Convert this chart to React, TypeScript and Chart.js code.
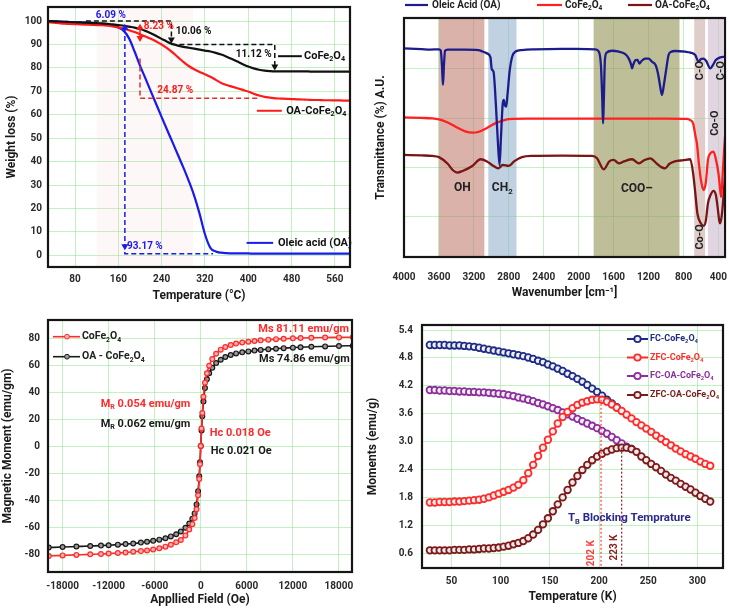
import React, { useEffect, useRef } from "react";
import { Chart, registerables } from "chart.js";
Chart.register(...registerables);

const FONT = 'Roboto, "Noto Sans", "DejaVu Sans", sans-serif';
const GRID = "rgba(120,225,120,0.45)";

// ---------- Panel A: TGA ----------
const tgaTemps = [30,40,50,60,70,80,90,100,110,120,130,140,150,160,170,180,190,200,210,220,230,240,250,260,270,280,290,300,310,320,330,340,350,360,370,380,390,400,410,420,430,440,450,460,470,480,490,500,510,520,530,540,550,560,570,580,590];
const tgaCoFe2O4 = [100.0,99.9,99.8,99.7,99.6,99.5,99.4,99.3,99.2,99.1,99.0,98.8,98.6,98.3,98.0,97.6,97.2,96.6,95.8,94.8,93.6,92.4,91.2,90.2,89.5,89.0,88.6,88.2,87.8,87.4,87.0,86.4,85.7,84.8,83.8,82.7,81.6,80.6,79.8,79.2,78.8,78.6,78.5,78.5,78.5,78.5,78.5,78.5,78.5,78.4,78.4,78.4,78.4,78.4,78.4,78.4,78.4];
const tgaOACoFe2O4 = [99.5,99.3,99.1,98.9,98.8,98.7,98.6,98.5,98.4,98.3,98.2,98.0,97.7,97.3,96.8,96.1,95.3,94.4,93.4,92.4,91.3,90.0,88.4,86.6,84.6,82.6,80.8,79.4,78.3,77.3,76.2,74.9,73.6,72.7,72.0,71.3,70.6,69.9,69.0,68.2,67.6,67.3,67.0,66.9,66.8,66.7,66.6,66.5,66.4,66.3,66.3,66.2,66.2,66.1,66.1,66.0,66.0];
const tgaOleicAcid = [100.0,99.9,99.8,99.7,99.6,99.5,99.4,99.3,99.2,99.0,98.8,98.5,98.0,97.2,95.8,92.5,87.0,81.0,75.5,70.0,64.5,59.0,53.6,48.3,42.9,37.5,31.8,25.5,17.8,9.0,3.2,1.6,1.1,0.9,0.8,0.8,0.8,0.8,0.7,0.7,0.7,0.7,0.7,0.7,0.7,0.7,0.7,0.7,0.7,0.7,0.7,0.7,0.7,0.7,0.7,0.7,0.7];
const tgaXTicks = [80,160,240,320,400,480,560];
const tgaYTicks = [0,10,20,30,40,50,60,70,80,90,100];

// ---------- Panel B: FTIR ----------
const ftirXTicks = [4000,3600,3200,2800,2400,2000,1600,1200,800,400];
const ftirYGrid = [17,37.5,58,79];
const oaWn = [4000,3800,3700,3600,3580,3565,3554,3543,3530,3500,3300,3150,3100,3050,3010,2995,2975,2950,2925,2906,2890,2870,2857,2845,2830,2815,2790,2760,2723,2650,2500,2200,1900,1810,1770,1745,1730,1721,1712,1700,1680,1618,1550,1470,1428,1400,1389,1375,1350,1325,1306,1280,1240,1200,1161,1120,1100,1085,1070,1047,1025,1000,971,940,900,780,720,666,628,600,571,540,495,460,430,380,325];
const oaT = [87.3,87.0,86.8,86.9,86.5,80.0,72.0,80.0,86.3,86.8,86.8,86.6,86.0,85.2,83.5,78.5,77.5,65.0,48.0,38.5,50.0,64.0,65.7,63.5,62.9,68.0,78.0,84.0,86.0,86.6,86.9,87.1,87.0,86.9,86.0,80.0,66.0,55.9,66.0,82.4,85.5,86.3,86.0,85.0,83.1,80.5,78.9,80.5,82.4,82.5,80.9,82.0,83.0,83.0,81.7,80.3,78.0,75.4,72.0,67.8,72.0,78.0,84.5,85.9,86.2,85.9,85.5,84.5,81.7,82.8,83.0,82.0,78.9,80.5,82.4,83.5,83.8];
const coWn = [4000,3800,3676,3600,3500,3400,3300,3218,3150,3050,2950,2850,2800,2600,2000,1500,1000,760,723,690,660,647,620,595,571,545,520,490,457,430,400,380,369,350,325];
const coT = [58.4,58.2,58.0,57.6,56.3,54.3,52.6,52.0,52.3,54.0,56.0,57.3,57.7,57.9,57.9,57.9,57.9,57.8,57.3,55.9,50.0,47.6,37.8,31.0,28.0,31.0,40.6,43.5,44.1,41.0,35.0,28.0,25.2,36.0,50.3];
const oacoWn = [4000,3800,3676,3600,3500,3440,3390,3330,3218,3123,3050,2980,2921,2870,2800,2740,2650,2533,2200,1847,1790,1714,1650,1600,1540,1480,1389,1310,1250,1180,1110,1050,1012,960,900,800,723,690,665,640,600,571,545,520,490,457,430,410,390,380,360,325];
const oacoT = [42.7,42.5,42.3,41.8,39.0,36.3,35.3,36.0,38.1,40.9,40.0,38.2,37.1,38.5,38.1,40.0,41.8,42.3,42.4,42.3,41.3,36.7,40.0,40.6,39.2,40.0,40.9,39.2,40.5,41.3,39.2,37.5,37.1,39.0,40.0,40.5,40.9,35.0,26.7,18.0,14.0,13.0,15.0,22.5,26.0,27.7,26.0,21.0,15.0,14.1,18.0,33.6];
const ftirBandFrom = [3600,3035,1829,677,521];
const ftirBandTo = [3080,2712,846,552,343];

// ---------- Panel C: VSM ----------
const vsmField = [-19800,-18000,-16200,-14400,-13000,-12000,-10800,-9800,-8800,-7800,-7000,-6200,-5400,-4600,-3900,-3200,-2600,-2000,-1500,-1100,-800,-550,-350,-200,-100,0,100,200,350,550,800,1100,1500,2000,2600,3200,3900,4600,5400,6200,7000,7800,8800,9800,10800,12000,13000,14400,16200,18000,19800];
const vsmCoFe2O4 = [-81.1,-80.7,-80.3,-79.9,-79.6,-79.3,-78.9,-78.5,-78.0,-77.5,-77.0,-76.3,-75.4,-74.2,-72.8,-71.0,-69.2,-66.0,-61.5,-57.5,-53.0,-46.5,-36.0,-24.0,-13.0,0.5,13.5,25.0,37.0,47.5,54.5,60.0,65.0,69.0,72.0,74.0,75.5,76.5,77.3,77.9,78.4,78.9,79.4,79.8,80.1,80.4,80.6,80.8,81.0,81.1,81.2];
const vsmOACoFe2O4 = [-74.8,-74.5,-74.1,-73.7,-73.4,-73.1,-72.7,-72.3,-71.8,-71.2,-70.6,-69.9,-69.0,-67.9,-66.6,-65.0,-63.0,-60.2,-57.0,-53.5,-49.5,-43.0,-33.0,-22.0,-11.5,0.5,12.0,22.5,33.5,43.5,50.0,54.5,58.5,62.0,64.5,66.5,68.0,69.2,70.0,70.7,71.3,71.8,72.3,72.7,73.1,73.5,73.8,74.1,74.4,74.7,74.9];
const vsmXTicks = [-18000,-12000,-6000,0,6000,12000,18000];
const vsmYTicks = [-80,-60,-40,-20,0,20,40,60,80];

// ---------- Panel D: FC / ZFC ----------
const mtTemps = [28,33,38,43,48,53,58,63,68,73,78,83,88,93,98,103,108,113,118,123,128,133,138,143,148,153,158,163,168,173,178,183,188,193,198,203,208,213,218,223,228,233,238,243,248,253,258,263,268,273,278,283,288,293,298,303,308,313];
const fcCoFe2O4 = [5.08,5.08,5.08,5.08,5.07,5.07,5.07,5.06,5.05,5.04,5.02,5.00,4.98,4.96,4.94,4.92,4.90,4.88,4.86,4.84,4.81,4.78,4.74,4.71,4.66,4.62,4.57,4.52,4.46,4.41,4.35,4.29,4.22,4.14,4.07,3.99,3.90,3.82,3.74];
const zfcCoFe2O4 = [1.69,1.69,1.70,1.70,1.70,1.71,1.71,1.72,1.73,1.74,1.75,1.77,1.80,1.84,1.88,1.92,1.96,2.01,2.07,2.17,2.32,2.50,2.69,2.87,3.04,3.22,3.39,3.53,3.64,3.72,3.79,3.84,3.87,3.90,3.91,3.90,3.86,3.80,3.73,3.66,3.58,3.50,3.42,3.35,3.28,3.21,3.13,3.06,2.99,2.92,2.85,2.79,2.73,2.68,2.63,2.57,2.52,2.48];
const fcOACoFe2O4 = [4.11,4.11,4.10,4.10,4.09,4.09,4.08,4.08,4.07,4.07,4.06,4.06,4.05,4.04,4.03,4.02,4.00,3.98,3.95,3.93,3.90,3.87,3.83,3.80,3.76,3.72,3.68,3.63,3.59,3.54,3.49,3.44,3.39,3.34,3.29,3.23,3.17,3.10,3.03,2.96,2.89,2.84];
const zfcOACoFe2O4 = [0.66,0.66,0.66,0.66,0.66,0.67,0.67,0.67,0.68,0.68,0.69,0.70,0.70,0.71,0.72,0.74,0.76,0.79,0.82,0.86,0.92,1.00,1.10,1.22,1.35,1.50,1.65,1.80,1.96,2.12,2.26,2.39,2.50,2.60,2.68,2.74,2.79,2.83,2.86,2.87,2.87,2.84,2.78,2.68,2.60,2.52,2.45,2.37,2.29,2.22,2.16,2.09,2.03,1.97,1.90,1.83,1.77,1.71];
const mtXTicks = [50,100,150,200,250,300];
const mtYTicks = [0.6,1.2,1.8,2.4,3.0,3.6,4.2,4.8,5.4];
const blockingTemps = [202,223];

// ---------- helpers ----------
type Pt = { x: number; y: number };
const zip = (xs: number[], ys: number[]): Pt[] => ys.map((y, i) => ({ x: xs[i], y }));

function richText(ctx: CanvasRenderingContext2D, text: string, x: number, y: number, size: number, color: string, align: "left" | "center" | "right" = "left", rot = 0) {
  const parts: { t: string; k: number }[] = [];
  let buf = "";
  for (let i = 0; i < text.length; i++) {
    const c = text[i];
    if ((c === "_" || c === "^") && i + 1 < text.length) {
      if (buf) { parts.push({ t: buf, k: 0 }); buf = ""; }
      parts.push({ t: text[i + 1], k: c === "_" ? 1 : 2 });
      i++;
    } else buf += c;
  }
  if (buf) parts.push({ t: buf, k: 0 });
  const small = size * 0.65;
  ctx.save();
  ctx.translate(x, y);
  if (rot) ctx.rotate(rot);
  let w = 0;
  const widths = parts.map((p) => {
    ctx.font = `bold ${p.k ? small : size}px ${FONT}`;
    const m = ctx.measureText(p.t).width;
    w += m;
    return m;
  });
  let cx = align === "left" ? 0 : align === "center" ? -w / 2 : -w;
  ctx.fillStyle = color;
  ctx.textAlign = "left";
  ctx.textBaseline = "middle";
  parts.forEach((p, i) => {
    ctx.font = `bold ${p.k ? small : size}px ${FONT}`;
    const dy = p.k === 1 ? size * 0.32 : p.k === 2 ? -size * 0.35 : 0;
    ctx.fillText(p.t, cx, dy);
    cx += widths[i];
  });
  ctx.restore();
}

function poly(ctx: CanvasRenderingContext2D, pts: number[][], color: string, dash: number[] = [], width = 1.5) {
  ctx.save();
  ctx.setLineDash(dash);
  ctx.strokeStyle = color;
  ctx.lineWidth = width;
  ctx.beginPath();
  pts.forEach(([x, y], i) => (i ? ctx.lineTo(x, y) : ctx.moveTo(x, y)));
  ctx.stroke();
  ctx.restore();
}

function head(ctx: CanvasRenderingContext2D, x: number, y: number, dir: "up" | "down", color: string, s = 3.5) {
  ctx.save();
  ctx.fillStyle = color;
  ctx.beginPath();
  const d = dir === "down" ? -1 : 1;
  ctx.moveTo(x, y);
  ctx.lineTo(x - s, y + d * s * 1.7);
  ctx.lineTo(x + s, y + d * s * 1.7);
  ctx.closePath();
  ctx.fill();
  ctx.restore();
}

function dot(ctx: CanvasRenderingContext2D, x: number, y: number, r: number, fill: string, stroke: string, lw = 1) {
  ctx.save();
  ctx.beginPath();
  ctx.arc(x, y, r, 0, Math.PI * 2);
  ctx.fillStyle = fill;
  ctx.fill();
  ctx.lineWidth = lw;
  ctx.strokeStyle = stroke;
  ctx.stroke();
  ctx.restore();
}

type AxisOpts = { pos: "left" | "bottom"; min: number; max: number; ticks: number[]; size: number; title: string; titlePad: number; tickPad: number; showTicks?: boolean; reverse?: boolean; fmt?: (v: number) => string };
function axis(o: AxisOpts) {
  return {
    type: "linear",
    position: o.pos,
    min: o.min,
    max: o.max,
    reverse: !!o.reverse,
    border: { display: false },
    grid: { color: GRID, lineWidth: 1, drawTicks: false },
    ticks: {
      display: o.showTicks !== false,
      padding: o.tickPad,
      color: "#2a2a2a",
      font: { family: FONT, size: 10, weight: "bold" },
      autoSkip: false,
      maxRotation: 0,
      minRotation: 0,
      callback: (v: any) => (o.fmt ? o.fmt(Number(v)) : String(v)),
    },
    title: {
      display: true,
      text: o.title,
      color: "#1a1a1a",
      font: { family: FONT, size: 12, weight: "bold" },
      padding: o.pos === "bottom" ? { top: 0, bottom: o.titlePad } : { top: o.titlePad, bottom: 0 },
    },
    afterBuildTicks: (s: any) => {
      s.ticks = o.ticks.map((v) => ({ value: v }));
    },
    afterFit: (s: any) => {
      if (o.pos === "bottom") s.height = o.size;
      else s.width = o.size;
      s.paddingTop = 0;
      s.paddingBottom = 0;
      s.paddingLeft = 0;
      s.paddingRight = 0;
    },
  };
}

const bgFrame = {
  id: "bgFrame",
  beforeDraw(c: any) {
    const ctx = c.ctx;
    ctx.save();
    ctx.fillStyle = "#fff";
    ctx.fillRect(0, 0, c.width, c.height);
    ctx.restore();
  },
  afterDraw(c: any) {
    const { left, top, right, bottom } = c.chartArea;
    const ctx = c.ctx;
    ctx.save();
    ctx.strokeStyle = "#151515";
    ctx.lineWidth = 2.2;
    ctx.strokeRect(left, top, right - left, bottom - top);
    ctx.restore();
  },
};

function config(datasets: any[], x: any, y: any, padding: any, plugin: any) {
  return {
    type: "line",
    data: { datasets },
    options: {
      animation: false,
      responsive: false,
      devicePixelRatio: 1,
      layout: { padding },
      plugins: { legend: { display: false }, tooltip: { enabled: false } },
      elements: { line: { cubicInterpolationMode: "monotone" } },
      scales: { x, y },
    },
    plugins: [bgFrame, plugin],
  };
}

function lineDs(data: Pt[], color: string, width = 2.2) {
  return { data, borderColor: color, backgroundColor: color, borderWidth: width, pointRadius: 0, fill: false };
}
function markDs(data: Pt[], color: string, fillColor: string, r: number, width: number, pbw = 1.2) {
  return { data, borderColor: color, backgroundColor: fillColor, borderWidth: width, pointRadius: r, pointBackgroundColor: fillColor, pointBorderColor: color, pointBorderWidth: pbw, fill: false };
}

// ---------- Panel builders ----------
const K = "#111111";
const RED = "#ff1a1a";
const BLUE = "#1a1aee";

function makeTGA() {
  const notes = {
    id: "tgaNotes",
    beforeDatasetsDraw(c: any) {
      const { ctx, chartArea: a } = c;
      const X = (v: number) => c.scales.x.getPixelForValue(v);
      ctx.save();
      ctx.fillStyle = "rgba(240,200,200,0.14)";
      ctx.fillRect(X(120), a.top, X(298) - X(120), a.bottom - a.top);
      ctx.restore();
    },
    afterDatasetsDraw(c: any) {
      const ctx = c.ctx;
      const X = (v: number) => c.scales.x.getPixelForValue(v);
      const Y = (v: number) => c.scales.y.getPixelForValue(v);
      poly(ctx, [[X(100), Y(100)], [X(258), Y(100)], [X(258), Y(92.6)]], K, [5, 3]);
      head(ctx, X(258), Y(90.4), "down", K);
      poly(ctx, [[X(258), Y(90)], [X(449), Y(90)], [X(449), Y(81.2)]], K, [5, 3]);
      head(ctx, X(449), Y(78.9), "down", K);
      richText(ctx, "10.06 %", X(266), Y(95.7), 10, K, "left");
      richText(ctx, "11.12 %", X(443), Y(85.8), 10, K, "right");
      poly(ctx, [[X(455), Y(85)], [X(499), Y(85)]], K, [], 2);
      richText(ctx, "CoFe_2O_4", X(503), Y(85), 11, K);

      richText(ctx, "8.23 %", X(207), Y(97.6), 10, RED);
      poly(ctx, [[X(200), Y(97.5)], [X(200), Y(92.5)]], RED, [], 1.5);
      head(ctx, X(200), Y(98.9), "up", RED);
      head(ctx, X(200), Y(91.1), "down", RED);
      poly(ctx, [[X(200), Y(84)], [X(200), Y(67)], [X(422), Y(67)]], "#d83333", [5, 3]);
      richText(ctx, "24.87 %", X(265), Y(70.5), 10, RED, "center");
      poly(ctx, [[X(416), Y(61.7)], [X(462), Y(61.7)]], RED, [], 2);
      richText(ctx, "OA-CoFe_2O_4", X(470), Y(61.7), 11, K);

      poly(ctx, [[X(172), Y(97)], [X(172), Y(0.7)], [X(335), Y(0.7)]], BLUE, [5, 3]);
      head(ctx, X(172), Y(98.8), "up", BLUE);
      head(ctx, X(172), Y(2.2), "down", BLUE);
      richText(ctx, "93.17 %", X(176), Y(3.9), 10, BLUE);
      richText(ctx, "6.09 %", X(146), Y(102.4), 10, BLUE, "center");
      poly(ctx, [[X(397), Y(5.3)], [X(446), Y(5.3)]], BLUE, [], 2);
      richText(ctx, "Oleic acid (OA)", X(455), Y(5.3), 11, K);
    },
  };
  return config(
    [
      lineDs(zip(tgaTemps, tgaCoFe2O4), K),
      lineDs(zip(tgaTemps, tgaOACoFe2O4), RED),
      lineDs(zip(tgaTemps, tgaOleicAcid), BLUE),
    ],
    axis({ pos: "bottom", min: 30, max: 588, ticks: tgaXTicks, size: 38, title: "Temperature (°C)", titlePad: 2, tickPad: 6 }),
    axis({ pos: "left", min: -5, max: 106, ticks: tgaYTicks, size: 48, title: "Weight loss (%)", titlePad: 4.5, tickPad: 6 }),
    { left: 0, top: 7, right: 15, bottom: 0 },
    notes
  );
}

const FT_OA = "#1c1c8c";
const FT_CO = "#ff2020";
const FT_OACO = "#7a1515";
const bandColors = ["rgba(190,115,100,0.55)", "rgba(150,178,205,0.6)", "rgba(150,150,90,0.62)", "rgba(205,178,172,0.65)", "rgba(205,185,205,0.6)"];

function makeFTIR() {
  const notes = {
    id: "ftirNotes",
    beforeDatasetsDraw(c: any) {
      const { ctx, chartArea: a } = c;
      const X = (v: number) => c.scales.x.getPixelForValue(v);
      ctx.save();
      ftirBandFrom.forEach((f, i) => {
        ctx.fillStyle = bandColors[i];
        ctx.fillRect(X(f), a.top, X(ftirBandTo[i]) - X(f), a.bottom - a.top);
      });
      ctx.restore();
    },
    afterDatasetsDraw(c: any) {
      const ctx = c.ctx;
      const X = (v: number) => c.scales.x.getPixelForValue(v);
      const Y = (v: number) => c.scales.y.getPixelForValue(v);
      const T = "#222";
      richText(ctx, "OH", X(3333), Y(28.9), 12, T, "center");
      richText(ctx, "CH_2", X(2875), Y(28.9), 12, T, "center");
      richText(ctx, "COO–", X(1333), Y(28.5), 12, T, "center");
      richText(ctx, "C-O", X(610), Y(78), 11, T, "center", -Math.PI / 2);
      richText(ctx, "C-O", X(372), Y(78), 11, T, "center", -Math.PI / 2);
      richText(ctx, "Co-O", X(432), Y(56), 11, T, "center", -Math.PI / 2);
      richText(ctx, "Co-O", X(609), Y(8.4), 11, T, "center", -Math.PI / 2);
      const ly = 5;
      poly(ctx, [[40, ly], [63, ly]], FT_OA, [], 2.2);
      richText(ctx, "Oleic Acid (OA)", 67, ly, 10, T);
      poly(ctx, [[172, ly], [197, ly]], FT_CO, [], 2.2);
      richText(ctx, "CoFe_2O_4", 200, ly, 10, T);
      poly(ctx, [[263, ly], [287, ly]], FT_OACO, [], 2.2);
      richText(ctx, "OA-CoFe_2O_4", 290, ly, 10, T);
    },
  };
  return config(
    [
      lineDs(zip(oaWn, oaT), FT_OA, 2.3),
      lineDs(zip(coWn, coT), FT_CO, 2.3),
      lineDs(zip(oacoWn, oacoT), FT_OACO, 2.3),
    ],
    axis({ pos: "bottom", min: 325, max: 4000, reverse: true, ticks: ftirXTicks, size: 48, title: "Wavenumber [cm⁻¹]", titlePad: 5, tickPad: 14 }),
    axis({ pos: "left", min: 0, max: 100, ticks: ftirYGrid, size: 39, title: "Transmittance (%) A.U.", titlePad: 9, tickPad: 4, showTicks: false }),
    { left: 0, top: 18, right: 4, bottom: 0 },
    notes
  );
}

const VSM_R = "#ff2a2a";
const VSM_K = "#1a1a1a";
function makeVSM() {
  const notes = {
    id: "vsmNotes",
    afterDatasetsDraw(c: any) {
      const ctx = c.ctx;
      const X = (v: number) => c.scales.x.getPixelForValue(v);
      const Y = (v: number) => c.scales.y.getPixelForValue(v);
      poly(ctx, [[53, 31.7], [80, 31.7]], VSM_R, [], 1.6);
      dot(ctx, 67, 31.7, 2.4, "#ffb0b0", VSM_R);
      richText(ctx, "CoFe_2O_4", 82, 31.7, 10.5, "#222");
      poly(ctx, [[53, 51.7], [80, 51.7]], VSM_K, [], 1.6);
      dot(ctx, 67, 51.7, 2.4, "#9a9a9a", VSM_K);
      richText(ctx, "OA - CoFe_2O_4", 82, 51.7, 10.5, "#222");
      richText(ctx, "Ms 81.11 emu/gm", X(13400), Y(86.9), 11, VSM_R, "center");
      richText(ctx, "Ms 74.86 emu/gm", X(13500), Y(64.6), 11, VSM_K, "center");
      richText(ctx, "M_R 0.054 emu/gm", X(-7200), Y(31.6), 11, VSM_R, "center");
      richText(ctx, "M_R 0.062 emu/gm", X(-7200), Y(16.8), 11, VSM_K, "center");
      richText(ctx, "Hc 0.018 Oe", X(1170), Y(10.1), 11, VSM_R, "left");
      richText(ctx, "Hc 0.021 Oe", X(1300), Y(-3.6), 11, VSM_K, "left");
    },
  };
  return config(
    [
      markDs(zip(vsmField, vsmCoFe2O4), VSM_R, "#ffb0b0", 2.4, 1.6),
      markDs(zip(vsmField, vsmOACoFe2O4), VSM_K, "#9a9a9a", 2.4, 1.6),
    ],
    axis({ pos: "bottom", min: -19900, max: 19700, ticks: vsmXTicks, size: 38, title: "Appllied Field (Oe)", titlePad: 3, tickPad: 8 }),
    axis({ pos: "left", min: -93, max: 94, ticks: vsmYTicks, size: 48, title: "Magnetic Moment (emu/gm)", titlePad: 1, tickPad: 8 }),
    { left: 0, top: 15, right: 13, bottom: 0 },
    notes
  );
}

const MT_COLORS = ["#1e2a85", "#ff2a2a", "#8b2f9b", "#7a1a1a"];
const MT_FILLS = ["#eef0fb", "#fff0f0", "#f7eef9", "#f6e8e8"];
const MT_NAMES = ["FC-CoFe_2O_4", "ZFC-CoFe_2O_4", "FC-OA-CoFe_2O_4", "ZFC-OA-CoFe_2O_4"];
function makeMT() {
  const notes = {
    id: "mtNotes",
    afterDatasetsDraw(c: any) {
      const ctx = c.ctx;
      const a = c.chartArea;
      const X = (v: number) => c.scales.x.getPixelForValue(v);
      const Y = (v: number) => c.scales.y.getPixelForValue(v);
      poly(ctx, [[X(blockingTemps[0]), Y(3.9)], [X(blockingTemps[0]), a.bottom]], "#ff3a3a", [2, 2], 1.2);
      poly(ctx, [[X(blockingTemps[1]), Y(2.87)], [X(blockingTemps[1]), a.bottom]], "#8a2020", [2, 2], 1.2);
      richText(ctx, "202 K", X(192), Y(0.6), 10, "#ff3a3a", "center", -Math.PI / 2);
      richText(ctx, "223 K", X(216), Y(0.72), 10, "#8a2020", "center", -Math.PI / 2);
      richText(ctx, "T_B Blocking Temprature", X(168.3), Y(1.35), 11.5, "#2a2a8a", "left");
      const ys = [34, 52.5, 71, 90];
      ys.forEach((yy, i) => {
        poly(ctx, [[262, yy], [283, yy]], MT_COLORS[i], [], 2);
        dot(ctx, 272.5, yy, 3.2, MT_FILLS[i], MT_COLORS[i], 1.8);
        richText(ctx, MT_NAMES[i], 285, yy, 9, MT_COLORS[i], "left");
      });
    },
  };
  return config(
    [
      markDs(zip(mtTemps, zfcOACoFe2O4), MT_COLORS[3], MT_FILLS[3], 3.3, 2, 1.8),
      markDs(zip(mtTemps, zfcCoFe2O4), MT_COLORS[1], MT_FILLS[1], 3.3, 2, 1.8),
      markDs(zip(mtTemps, fcOACoFe2O4), MT_COLORS[2], MT_FILLS[2], 3.3, 2, 1.8),
      markDs(zip(mtTemps, fcCoFe2O4), MT_COLORS[0], MT_FILLS[0], 3.3, 2, 1.8),
    ],
    axis({ pos: "bottom", min: 20, max: 326, ticks: mtXTicks, size: 42, title: "Temperature (K)", titlePad: 6, tickPad: 7 }),
    axis({ pos: "left", min: 0.28, max: 5.51, ticks: mtYTicks, size: 57, title: "Moments (emu/g)", titlePad: 1, tickPad: 9, fmt: (v) => v.toFixed(1) }),
    { left: 0, top: 20, right: 6, bottom: 0 },
    notes
  );
}

function Panel({ x, y, w, h, make }: { x: number; y: number; w: number; h: number; make: () => any }) {
  const ref = useRef<HTMLCanvasElement>(null);
  useEffect(() => {
    const chart = new Chart(ref.current as HTMLCanvasElement, make());
    return () => chart.destroy();
  }, []);
  return <canvas ref={ref} width={w} height={h} style={{ position: "absolute", left: x, top: y, width: w, height: h }} />;
}

export default function App() {
  return (
    <div style={{ position: "fixed", left: 0, top: 0, width: 729, height: 610, background: "#fff", overflow: "hidden" }}>
      <Panel x={0} y={0} w={365} h={305} make={makeTGA} />
      <Panel x={365} y={0} w={364} h={305} make={makeFTIR} />
      <Panel x={0} y={305} w={365} h={305} make={makeVSM} />
      <Panel x={365} y={305} w={364} h={305} make={makeMT} />
    </div>
  );
}
